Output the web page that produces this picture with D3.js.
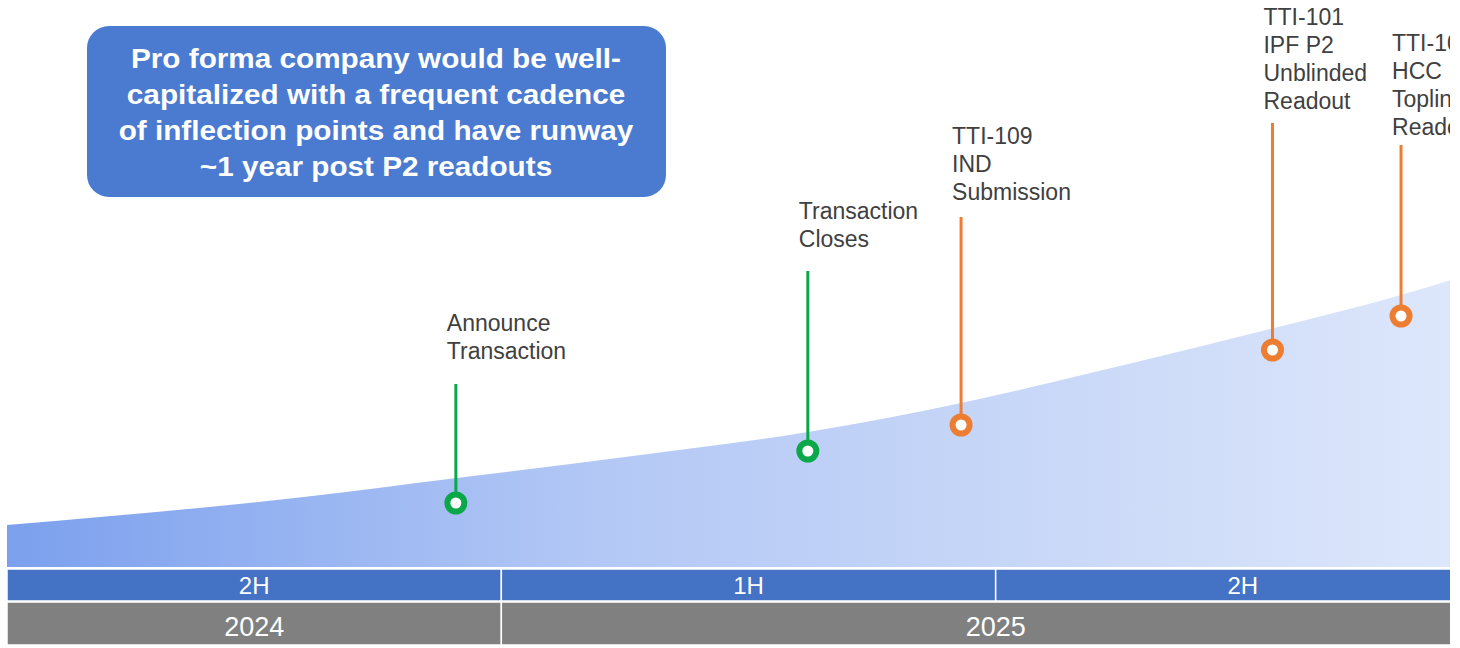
<!DOCTYPE html>
<html>
<head>
<meta charset="utf-8">
<script src="https://cdn.jsdelivr.net/npm/d3@7"></script>
<style>
  body { margin: 0; background: #fff; }
  svg { display: block; font-family: Arial, "Liberation Sans", sans-serif; }
</style>
</head>
<body>
<svg width="1460" height="648"></svg>
<script>
// timeline in half-year units: 0 = start of 2H 2024
const halves = ["2H", "1H", "2H"];
const halfStarts = [0, 1, 2];
const years = ["2024", "2025"];
const yearStarts = [0, 1];
const yearEnds = [1, 3];

// rising background area (height above the timeline band)
const areaT = [0, 0.6, 0.91, 1.25, 1.62, 1.93, 2.2, 2.49, 2.92, 3];
const areaH = [42, 70, 89, 110, 135, 164, 195, 230, 287, 300];

// milestones
const milestones = [
  "Announce\nTransaction",
  "Transaction\nCloses",
  "TTI-109\nIND\nSubmission",
  "TTI-101\nIPF P2\nUnblinded\nReadout",
  "TTI-101\nHCC\nTopline\nReadout"
];
const msT = [0.908, 1.62, 1.93, 2.56, 2.82];
const msH = [64, 116, 142, 217, 251];        // marker level
const stemTopH = [183, 296, 350, 444, 422];  // top of the stem
const labelTopH = [244, 356, 431, 550, 524]; // first text line
const msType = ["deal", "deal", "clinical", "clinical", "clinical"];

const headline = [
  "Pro forma company would be well-",
  "capitalized with a frequent cadence",
  "of inflection points and have runway",
  "~1 year post P2 readouts"
];

const svg = d3.select("svg");
const clipRight = 1450;

const x = d3.scaleLinear().domain([0, 3]).range([7, 1490]);
const y = d3.scaleLinear().domain([0, 300]).range([567, 267]);
const color = d3.scaleOrdinal().domain(["deal", "clinical"]).range(["#0ba84a", "#ed7d31"]);

const defs = svg.append("defs");
defs.append("clipPath").attr("id", "clip")
  .append("rect").attr("x", 0).attr("y", 0).attr("width", clipRight).attr("height", 648);

const grad = defs.append("linearGradient").attr("id", "areaGrad")
  .attr("x1", "0%").attr("x2", "100%").attr("y1", "0%").attr("y2", "0%");
grad.append("stop").attr("offset", "0%").attr("stop-color", "#7ca0ee");
grad.append("stop").attr("offset", "40%").attr("stop-color", "#b3c8f5");
grad.append("stop").attr("offset", "100%").attr("stop-color", "#dfe8fb");

const chart = svg.append("g").attr("clip-path", "url(#clip)");

// background area
const areaData = areaT.map((t, i) => ({ t, h: areaH[i] }));
chart.append("path")
  .datum(areaData)
  .attr("fill", "url(#areaGrad)")
  .attr("d", d3.area()
    .x(d => x(d.t))
    .y0(y(0))
    .y1(d => y(d.h))
    .curve(d3.curveMonotoneX));

// half-year band
const halfBand = chart.append("g");
halfBand.selectAll("rect")
  .data(halves)
  .join("rect")
  .attr("x", (d, i) => x(halfStarts[i]))
  .attr("y", 569)
  .attr("width", (d, i) => x(halfStarts[i] + 1) - x(halfStarts[i]))
  .attr("height", 32)
  .attr("fill", "#4472c4")
  .attr("stroke", "#fff")
  .attr("stroke-width", 1.5);
halfBand.selectAll("text")
  .data(halves)
  .join("text")
  .attr("x", (d, i) => x(halfStarts[i] + 0.5))
  .attr("y", 594)
  .attr("text-anchor", "middle")
  .attr("fill", "#fff")
  .attr("font-size", 24)
  .text(d => d);

// year band
const yearBand = chart.append("g");
yearBand.selectAll("rect")
  .data(years)
  .join("rect")
  .attr("x", (d, i) => x(yearStarts[i]))
  .attr("y", 602)
  .attr("width", (d, i) => x(yearEnds[i]) - x(yearStarts[i]))
  .attr("height", 43)
  .attr("fill", "#808080")
  .attr("stroke", "#fff")
  .attr("stroke-width", 1.5);
yearBand.selectAll("text")
  .data(years)
  .join("text")
  .attr("x", (d, i) => (x(yearStarts[i]) + x(yearEnds[i])) / 2)
  .attr("y", 636)
  .attr("text-anchor", "middle")
  .attr("fill", "#fff")
  .attr("font-size", 27)
  .text(d => d);

// milestones
const ms = chart.selectAll("g.ms")
  .data(milestones)
  .join("g")
  .attr("class", "ms");

ms.append("line")
  .attr("x1", (d, i) => x(msT[i]))
  .attr("x2", (d, i) => x(msT[i]))
  .attr("y1", (d, i) => y(stemTopH[i]))
  .attr("y2", (d, i) => y(msH[i]))
  .attr("stroke", (d, i) => color(msType[i]))
  .attr("stroke-width", 3);

ms.append("circle")
  .attr("cx", (d, i) => x(msT[i]))
  .attr("cy", (d, i) => y(msH[i]))
  .attr("r", 8.5)
  .attr("fill", "#fff")
  .attr("stroke", (d, i) => color(msType[i]))
  .attr("stroke-width", 6);

ms.append("text")
  .attr("fill", "#404040")
  .attr("font-size", 23)
  .each(function (d, i) {
    const t = d3.select(this);
    d.split("\n").forEach((line, j) => {
      t.append("tspan")
        .attr("x", x(msT[i]) - 9)
        .attr("y", y(labelTopH[i]) + 8 + j * 28)
        .text(line);
    });
  });

// headline box
const box = svg.append("g");
box.append("rect")
  .attr("x", 87).attr("y", 26)
  .attr("width", 579).attr("height", 171)
  .attr("rx", 22)
  .attr("fill", "#4a7bd0");
box.append("text")
  .attr("fill", "#fff")
  .attr("font-size", 27)
  .attr("font-weight", "bold")
  .attr("text-anchor", "middle")
  .attr("transform", "translate(376,0) scale(1.1,1)")
  .selectAll("tspan")
  .data(headline)
  .join("tspan")
  .attr("x", 0)
  .attr("y", (d, i) => 68 + i * 36)
  .text(d => d);
</script>
</body>
</html>
